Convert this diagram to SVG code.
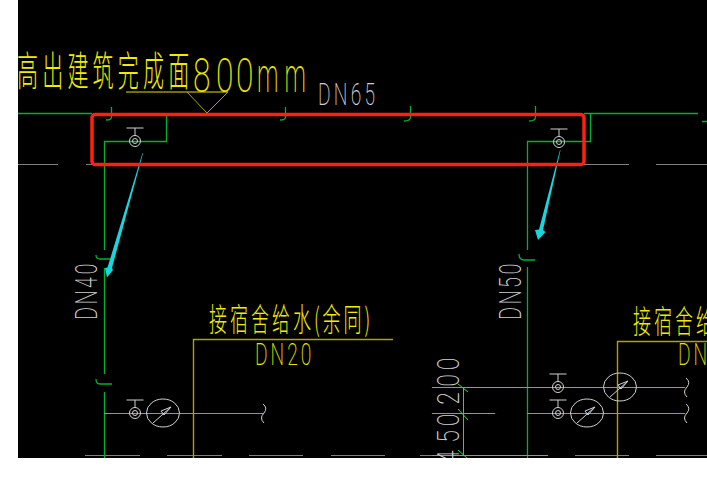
<svg xmlns="http://www.w3.org/2000/svg" width="707" height="485" viewBox="0 0 707 485">
<style>
.g{stroke:#00b030;stroke-width:1.300;fill:none}
.b{stroke:#22e033;stroke-width:1;fill:none}
.y{stroke:#b0a200;stroke-width:1.400;fill:none}
.yb{stroke:#e6e000;stroke-width:1;fill:none}
.yo{stroke:#b0a200;stroke-width:1;fill:none}
.w{stroke:#d0d0d0;stroke-width:1;fill:none}
.d{stroke:#808080;stroke-width:1;fill:none}
.ty{fill:#f0ec00;font-family:"Noto Sans CJK SC","Liberation Sans",sans-serif;font-weight:200}
.tl{font-family:"Roboto","Liberation Sans",sans-serif;font-weight:200}
</style>
<defs>
<g id="valve"><path class="w" d="M-8.500-13H8.500M0-13V-5"/><circle class="w" r="5.500"/><circle class="w" r="2.500"/></g>
<g id="meter"><ellipse class="w" rx="16.500" ry="14"/><path class="w" d="M-10 10L8-6L-2-2L1 2L8-6"/></g>
<path id="brk" class="w" d="M0-9Q5-5 1 0Q-4 5 1 10"/>
</defs>
<rect width="707" height="485" fill="#fff"/>
<rect x="18" y="0" width="689" height="458" fill="#000"/>
<g id="connectors">
<path class="d" d="M18 164.500H58M86 164.500H92M584 164.500H629M656 164.500H707M85 455.500H140M167 455.500H222M249 455.500H303M331 455.500H385M420 455.500H547M575 455.500H629M656 455.500H707"/>
<path class="g" d="M18 113.500H92M166.500 114V141.500H104.500V250M104.500 268V374M104.500 392V458"/>
<path class="g" d="M584 113.500H698M702 121.500H707M590.500 114V141.500H527.500V250M527.500 267V458"/>
<path class="g" d="M111.500 107V117Q111.500 120 106 120M285.500 107V117Q285.500 120 280 120M410.500 106V117Q410.500 121 404 121M535.500 106V117Q535.500 121 529 121"/>
<path class="g" d="M96 255Q96 259 100 259H111M96 379Q96 384 100 384H112M519 254Q519 260 524 260H535"/>
<path class="b" d="M104 413.500H263M527 413.500H685M432 387.500H685M432 413.500H495M463.500 387V455M432 455.500H548"/>
<path class="b" d="M458 384L468 392M458 409L468 420M458 450L468 459"/>
<path class="y" d="M193.500 458V339.500H393M617.500 458V341.500H707"/>
<path class="yb" d="M126 92H228"/>
<path class="yo" d="M187 92L207 113L228 92"/>
<path fill="#19d6dc" d="M142.500 153L143 153.200L112 268L113 270L107 277.500L105 268L107.500 267.500ZM560 150L560.500 150.200L543 230L545.500 232L538 240L535 230L539 229.500Z"/>
</g>
<g id="highlight"><rect x="92" y="114.500" width="492" height="50" rx="3" fill="none" stroke="#ff2010" stroke-width="3.500"/></g>
<g id="valve-1"><use href="#valve" x="135" y="141"/></g>
<g id="valve-2"><use href="#valve" x="559" y="142"/></g>
<g id="fixture-1"><use href="#valve" x="135" y="413"/><use href="#meter" x="163" y="413"/><use href="#brk" x="263" y="413"/></g>
<g id="fixture-2"><use href="#valve" x="558" y="387"/><use href="#meter" x="620" y="387"/><use href="#brk" x="686" y="387"/></g>
<g id="fixture-3"><use href="#valve" x="558" y="413"/><use href="#meter" x="587" y="413"/><use href="#brk" x="686" y="413"/></g>
<g id="labels">
<text class="ty" transform="translate(17 86) scale(1 1.950)" font-size="21" letter-spacing="4.200">高出建筑完成面</text>
<text class="tl" transform="translate(193 92) scale(.66 1)" font-size="48" fill="#e8e400" x="0 35 65">800</text>
<text class="tl" transform="translate(257 92) scale(.5 1)" font-size="48" fill="#e8e400" letter-spacing="12">mm</text>
<text class="tl" transform="translate(318 105) scale(.6 1)" font-size="32" fill="#d0d0d0" letter-spacing="5.500">DN65</text>
<text class="tl" transform="translate(97 320) rotate(-90) scale(.62 1)" font-size="32" fill="#d0d0d0" letter-spacing="4">DN40</text>
<text class="tl" transform="translate(521 320) rotate(-90) scale(.62 1)" font-size="32" fill="#d0d0d0" letter-spacing="4">DN50</text>
<text class="ty" transform="translate(209 331) scale(1 1.750)" font-size="18" letter-spacing="3">接宿舍给水(余同)</text>
<text class="tl" transform="translate(255 365) scale(.6 1)" font-size="32" fill="#e8e400" letter-spacing="5">DN20</text>
<text class="ty" transform="translate(633 333) scale(1 1.750)" font-size="18" letter-spacing="3">接宿舍给</text>
<text class="tl" transform="translate(678 365) scale(.6 1)" font-size="32" fill="#e8e400" letter-spacing="5">DN</text>
<text class="tl" transform="translate(459 463) rotate(-90) scale(.72 1)" font-size="32" fill="#d0d0d0" x="0 28 51 81 106 129">450200</text>
</g>
<rect x="0" y="458" width="707" height="27" fill="#fff"/>
</svg>
